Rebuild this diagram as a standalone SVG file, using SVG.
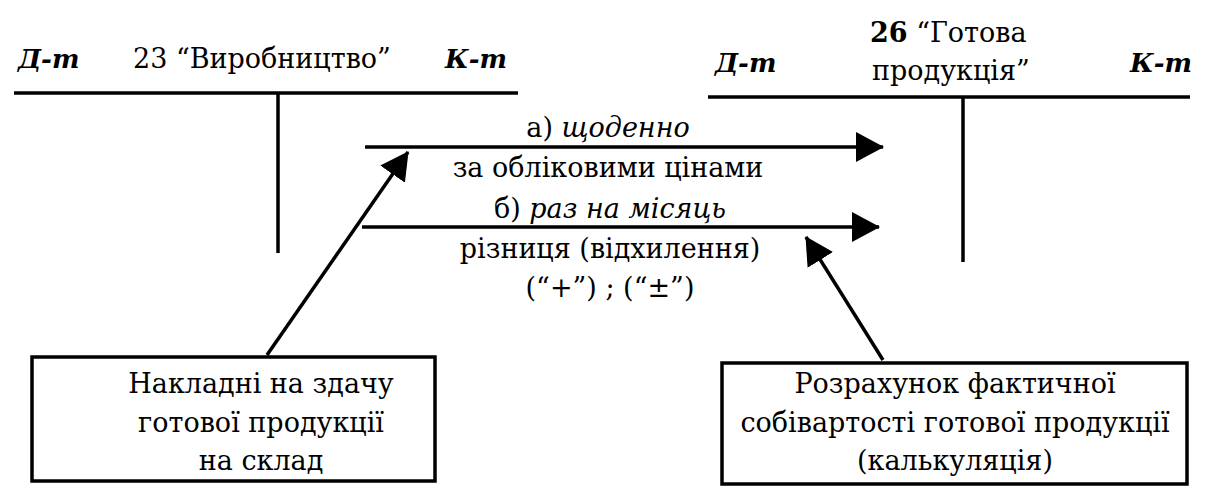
<svg xmlns="http://www.w3.org/2000/svg" width="1209" height="490" viewBox="0 0 1209 490" font-family="'DejaVu Serif', 'Liberation Serif', serif">
<defs>
<style>
text{font-family:'DejaVu Serif','Liberation Serif',serif;font-size:27px;fill:#000}
.bi{font-weight:bold;font-style:italic;font-size:26px}
.c{text-anchor:middle}
.i{font-style:italic}
.ln{stroke:#000;stroke-width:3.5;fill:none}
.box{stroke:#000;stroke-width:3.5;fill:#fff}
</style>
<marker id="ah2" viewBox="0 0 28 30" markerWidth="28" markerHeight="30" refX="27" refY="15" orient="auto" markerUnits="userSpaceOnUse">
<path d="M0,0 L28,15 L0,30 z" fill="#000"/>
</marker>
</defs>
<rect width="1209" height="490" fill="#fff"/>
<g id="account23">
<line class="ln" x1="14" y1="93" x2="518" y2="93"/>
<line class="ln" x1="278" y1="93" x2="278" y2="253"/>
<text class="bi" x="18" y="68">Д-т</text>
<text x="133" y="68">23 “Виробництво”</text>
<text class="bi" x="445" y="68">К-т</text>
</g>
<g id="account26">
<line class="ln" x1="708" y1="97" x2="1190" y2="97"/>
<line class="ln" x1="963" y1="97" x2="963" y2="262"/>
<text class="bi" x="715" y="72">Д-т</text>
<text x="870" y="42"><tspan font-weight="bold">26</tspan> “Готова</text>
<text x="872" y="80">продукція”</text>
<text class="bi" x="1130" y="72">К-т</text>
</g>
<g id="labels">
<text class="c" x="608" y="137">а) <tspan class="i">щоденно</tspan></text>
<text class="c" x="608" y="177">за обліковими цінами</text>
<text class="c" x="610" y="218">б) <tspan class="i">раз на місяць</tspan></text>
<text class="c" x="610" y="258">різниця (відхилення)</text>
<text class="c" x="610" y="297">(“+”) ; (“±”)</text>
</g>
<g id="box-left">
<rect class="box" x="32" y="357" width="403" height="124"/>
<text class="c" x="261" y="393">Накладні на здачу</text>
<text class="c" x="261" y="432">готової продукції</text>
<text class="c" x="261" y="470">на склад</text>
</g>
<g id="box-right">
<rect class="box" x="722" y="363" width="465" height="121"/>
<text class="c" x="955" y="393">Розрахунок фактичної</text>
<text class="c" x="955" y="432">собівартості готової продукції</text>
<text class="c" x="955" y="470">(калькуляція)</text>
</g>
<g id="connectors">
<line class="ln" x1="365" y1="147" x2="883" y2="147" marker-end="url(#ah2)"/>
<line class="ln" x1="362" y1="227" x2="879" y2="227" marker-end="url(#ah2)"/>
<line class="ln" x1="267" y1="355" x2="408" y2="152" marker-end="url(#ah2)"/>
<line class="ln" x1="883" y1="360" x2="806" y2="237" marker-end="url(#ah2)"/>
</g>
</svg>
